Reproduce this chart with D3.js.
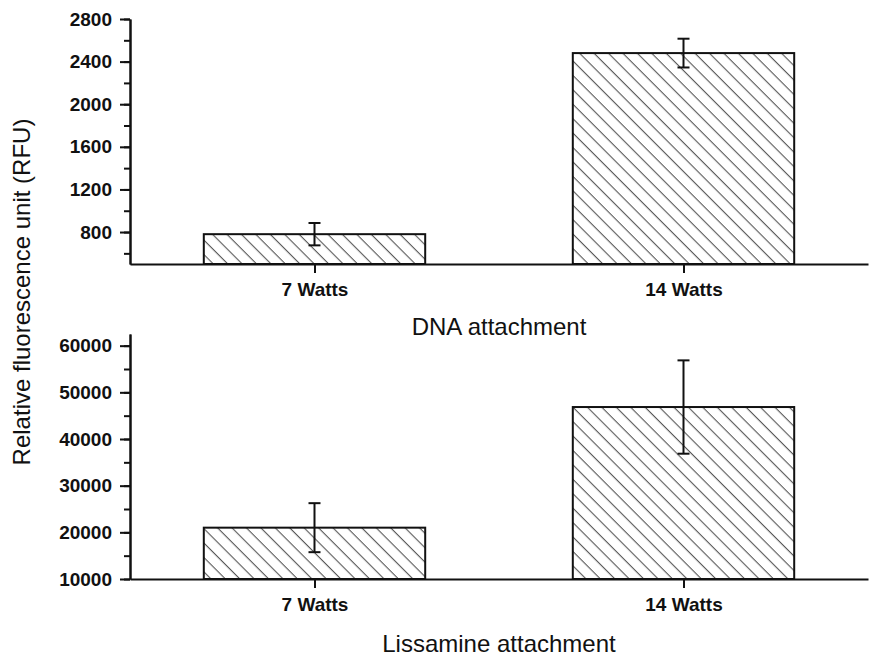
<!DOCTYPE html>
<html>
<head>
<meta charset="utf-8">
<script src="https://cdn.jsdelivr.net/npm/d3@7"></script>
<style>
  body { margin: 0; background: #fff; }
  svg { display: block; font-family: "Liberation Sans", Arial, sans-serif; }
  .axis path, .axis line { stroke: #111; stroke-width: 2; }
  .axis text { font-size: 19px; font-weight: bold; fill: #111; }
</style>
</head>
<body>
<div id="chart"></div>
<script>
// categories and values
const categories = ["7 Watts", "14 Watts"];
const dnaMeans = [780, 2480];
const dnaErrors = [105, 135];
const lissMeans = [21000, 46850];
const lissErrors = [5250, 10000];
const dnaTicks = [800, 1200, 1600, 2000, 2400, 2800];
const lissTicks = [10000, 20000, 30000, 40000, 50000, 60000];
const dnaTitle = "DNA attachment";
const lissTitle = "Lissamine attachment";
const yTitle = "Relative fluorescence unit (RFU)";

const width = 873, height = 662;

const svg = d3.select('#chart')
    .append('svg')
    .attr('width', width)
    .attr('height', height);

// hatch pattern for the bars
const hatch = svg.append('defs').append('pattern')
    .attr('id', 'hatch')
    .attr('patternUnits', 'userSpaceOnUse')
    .attr('width', 10.2)
    .attr('height', 10.2)
    .attr('patternTransform', 'rotate(-45)');
hatch.append('line')
    .attr('x1', 5).attr('x2', 5)
    .attr('y1', 0).attr('y2', 10.2)
    .attr('stroke', '#555')
    .attr('stroke-width', 1.1);

// shared x scale
const x = d3.scalePoint()
    .domain(categories)
    .range([130, 868])
    .padding(0.5);
const barWidth = x.step() * 0.6;

function panel(opts) {
    const y = d3.scaleLinear()
        .domain(opts.domain)
        .range(opts.range);
    const g = svg.append('g');
    const base = opts.range[0];

    // bars
    g.selectAll('rect.bar')
        .data(opts.means)
        .enter()
        .append('rect')
        .attr('class', 'bar')
        .attr('x', (d, i) => x(categories[i]) - barWidth / 2)
        .attr('y', d => y(d))
        .attr('width', barWidth)
        .attr('height', d => base - y(d))
        .attr('fill', 'url(#hatch)')
        .attr('stroke', '#111')
        .attr('stroke-width', 2);

    // error bars
    const err = g.selectAll('g.err')
        .data(opts.means)
        .enter()
        .append('g')
        .attr('class', 'err')
        .attr('stroke', '#111')
        .attr('stroke-width', 2);
    err.append('line')
        .attr('x1', (d, i) => x(categories[i]))
        .attr('x2', (d, i) => x(categories[i]))
        .attr('y1', (d, i) => y(d + opts.errors[i]))
        .attr('y2', (d, i) => y(d - opts.errors[i]));
    [1, -1].forEach(s => {
        err.append('line')
            .attr('x1', (d, i) => x(categories[i]) - 6)
            .attr('x2', (d, i) => x(categories[i]) + 6)
            .attr('y1', (d, i) => y(d + s * opts.errors[i]))
            .attr('y2', (d, i) => y(d + s * opts.errors[i]));
    });

    // minor ticks on y
    g.append('g')
        .attr('class', 'axis')
        .attr('transform', 'translate(130,0)')
        .call(d3.axisLeft(y).ticks(opts.minorCount).tickSize(6).tickSizeOuter(0).tickFormat(''));

    // major ticks on y
    g.append('g')
        .attr('class', 'axis')
        .attr('transform', 'translate(130,0)')
        .call(d3.axisLeft(y).tickValues(opts.ticks).tickSize(10).tickSizeOuter(0).tickPadding(8).tickFormat(d3.format('d')));

    // x axis
    g.append('g')
        .attr('class', 'axis')
        .attr('transform', `translate(0,${base})`)
        .call(d3.axisBottom(x).tickSize(9).tickSizeOuter(0).tickPadding(10));

    // panel title
    g.append('text')
        .attr('x', 499)
        .attr('y', opts.titleY)
        .attr('text-anchor', 'middle')
        .style('font-size', '24px')
        .style('fill', '#111')
        .text(opts.title);
}

panel({
    domain: [500, 2800], range: [264, 19],
    means: dnaMeans, errors: dnaErrors, ticks: dnaTicks,
    minorCount: 12, title: dnaTitle, titleY: 335
});

panel({
    domain: [10000, 62500], range: [579, 334],
    means: lissMeans, errors: lissErrors, ticks: lissTicks,
    minorCount: 10, title: lissTitle, titleY: 652
});

// y axis title
svg.append('text')
    .attr('transform', 'translate(30,292) rotate(-90)')
    .attr('text-anchor', 'middle')
    .style('font-size', '24px')
    .style('fill', '#111')
    .text(yTitle);
</script>
</body>
</html>
